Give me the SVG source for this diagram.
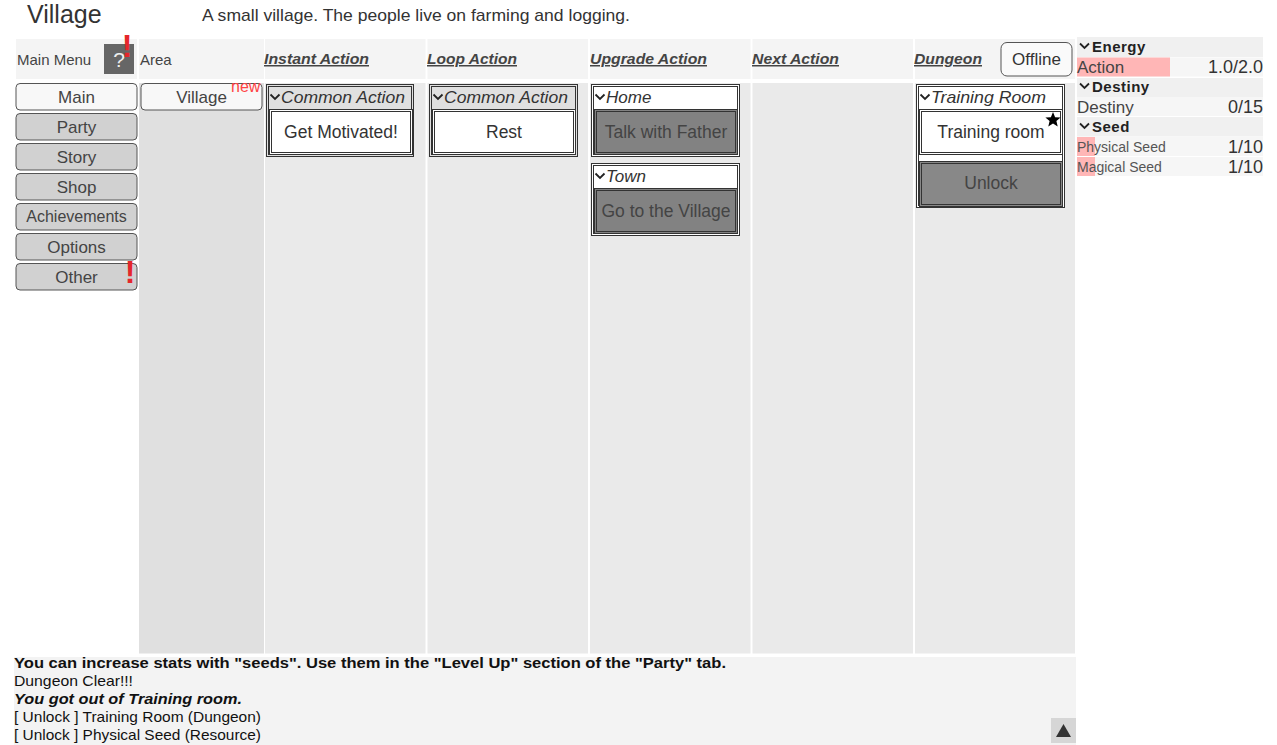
<svg xmlns="http://www.w3.org/2000/svg" width="1277" height="745" viewBox="0 0 1277 745">
<style>
text{font-family:"Liberation Sans",Arial,sans-serif;}
.hdr{fill:#f4f4f4;}
.col{fill:#eaeaea;}
.hl{font-size:15px;fill:#444;}
.ha{font-size:15px;font-weight:bold;font-style:italic;fill:#444;text-decoration:underline;}
.mb{stroke:#555;stroke-width:1;}
.mt{font-size:17px;fill:#444;text-anchor:middle;}
.box{fill:none;stroke:#333;stroke-width:1;}
.gt{font-size:17px;font-style:italic;fill:#333;}
.bt{font-size:17.5px;fill:#333;text-anchor:middle;}
.gbt{font-size:17.5px;fill:#444;text-anchor:middle;}
.chev{fill:none;stroke:#222;stroke-width:1.8;}
.rh{fill:#f0f0f0;}
.rr{fill:#f6f6f6;}
.rht{font-size:15px;font-weight:bold;fill:#222;letter-spacing:0.5px;}
.rv{font-size:18px;fill:#333;text-anchor:end;}
.log{font-size:15px;fill:#111;}
.warn{font-size:32px;font-weight:bold;fill:#e5262b;text-anchor:middle;}
</style>

<g id="title">
<text x="27" y="23" style="font-size:25px;fill:#333">Village</text>
<text x="202" y="21" style="font-size:17px;fill:#333" textLength="428" lengthAdjust="spacingAndGlyphs">A small village. The people live on farming and logging.</text>
</g>

<g id="headers">
<rect class="hdr" x="16" y="39" width="121" height="40"/>
<rect class="hdr" x="139" y="39" width="125" height="40"/>
<rect class="hdr" x="265" y="39" width="160.5" height="40"/>
<rect class="hdr" x="427.5" y="39" width="160.5" height="40"/>
<rect class="hdr" x="590" y="39" width="160.5" height="40"/>
<rect class="hdr" x="752.5" y="39" width="160.5" height="40"/>
<rect class="hdr" x="915" y="39" width="160" height="40"/>
<text class="hl" x="17" y="65">Main Menu</text>
<text class="hl" x="140" y="65">Area</text>
<text class="ha" x="264" y="64" textLength="105" lengthAdjust="spacingAndGlyphs">Instant Action</text>
<text class="ha" x="427" y="64" textLength="90" lengthAdjust="spacingAndGlyphs">Loop Action</text>
<text class="ha" x="590" y="64" textLength="117" lengthAdjust="spacingAndGlyphs">Upgrade Action</text>
<text class="ha" x="752" y="64" textLength="87" lengthAdjust="spacingAndGlyphs">Next Action</text>
<text class="ha" x="914" y="64" textLength="68" lengthAdjust="spacingAndGlyphs">Dungeon</text>
</g>

<g id="help">
<rect x="104" y="44" width="30" height="30" fill="#666"/>
<text x="119" y="67" style="font-size:21px;fill:#eee;text-anchor:middle">?</text>
<text class="warn" x="127" y="57">!</text>
</g>

<g id="offline">
<rect x="1001" y="42.5" width="71" height="33.5" rx="6" fill="#fafafa" stroke="#555"/>
<text x="1036.5" y="65" style="font-size:17px;fill:#333;text-anchor:middle">Offline</text>
</g>

<g id="columns">
<rect x="139" y="83" width="125" height="570.5" fill="#e0e0e0"/>
<rect class="col" x="265" y="83" width="160.5" height="570.5"/>
<rect class="col" x="427.5" y="83" width="160.5" height="570.5"/>
<rect class="col" x="590" y="83" width="160.5" height="570.5"/>
<rect class="col" x="752.5" y="83" width="160.5" height="570.5"/>
<rect class="col" x="915" y="83" width="160" height="570.5"/>
</g>

<g id="main-menu">
<rect class="mb" x="16" y="83.5" width="121" height="26.5" rx="4" fill="#f8f8f8"/>
<text class="mt" x="76.5" y="103">Main</text>
<rect class="mb" x="16" y="113.5" width="121" height="26.5" rx="4" fill="#d1d1d1"/>
<text class="mt" x="76.5" y="133">Party</text>
<rect class="mb" x="16" y="143.5" width="121" height="26.5" rx="4" fill="#d1d1d1"/>
<text class="mt" x="76.5" y="163">Story</text>
<rect class="mb" x="16" y="173.5" width="121" height="26.5" rx="4" fill="#d1d1d1"/>
<text class="mt" x="76.5" y="193">Shop</text>
<rect class="mb" x="16" y="203.5" width="121" height="26.5" rx="4" fill="#d1d1d1"/>
<text class="mt" x="76.5" y="222" style="font-size:16px">Achievements</text>
<rect class="mb" x="16" y="233.5" width="121" height="26.5" rx="4" fill="#d1d1d1"/>
<text class="mt" x="76.5" y="253">Options</text>
<rect class="mb" x="16" y="263.5" width="121" height="26.5" rx="4" fill="#d1d1d1"/>
<text class="mt" x="76.5" y="283">Other</text>
<text class="warn" x="130" y="283">!</text>
</g>

<g id="area-village">
<rect class="mb" x="141" y="83.5" width="121" height="26.5" rx="4" fill="#f8f8f8"/>
<text class="mt" x="201.5" y="103">Village</text>
<text x="231" y="92" style="font-size:16px;fill:#f44">new</text>
</g>

<g id="instant-common">
<rect x="266.5" y="84.5" width="147" height="72" fill="#e0e0e0"/>
<rect class="box" x="266.5" y="84.5" width="147" height="72"/>
<rect class="box" x="268.5" y="86.5" width="143" height="68"/>
<path class="chev" d="M270.5 94.5 L275 99 L279.5 94.5"/>
<text class="gt" x="281" y="103" textLength="124" lengthAdjust="spacingAndGlyphs">Common Action</text>
<rect x="269.5" y="109.5" width="143" height="45" fill="#fff" stroke="#333"/>
<rect class="box" x="271.5" y="111.5" width="139" height="41"/>
<text class="bt" x="341" y="138">Get Motivated!</text>
</g>

<g id="loop-common">
<rect x="429.5" y="84.5" width="148" height="72" fill="#e0e0e0"/>
<rect class="box" x="429.5" y="84.5" width="148" height="72"/>
<rect class="box" x="431.5" y="86.5" width="144" height="68"/>
<path class="chev" d="M433.5 94.5 L438 99 L442.5 94.5"/>
<text class="gt" x="444" y="103" textLength="124" lengthAdjust="spacingAndGlyphs">Common Action</text>
<rect x="432.5" y="109.5" width="143" height="45" fill="#fff" stroke="#333"/>
<rect class="box" x="434.5" y="111.5" width="139" height="41"/>
<text class="bt" x="504" y="138">Rest</text>
</g>

<g id="upgrade-home">
<rect x="591.5" y="84.5" width="148" height="72" fill="#fff"/>
<rect class="box" x="591.5" y="84.5" width="148" height="72"/>
<rect class="box" x="593.5" y="86.5" width="144" height="68"/>
<path class="chev" d="M595.5 94.5 L600 99 L604.5 94.5"/>
<text class="gt" x="606" y="103">Home</text>
<rect x="594.5" y="109.5" width="143" height="45" fill="#828282" stroke="#333"/>
<rect class="box" x="596.5" y="111.5" width="139" height="41"/>
<text class="gbt" x="666" y="138">Talk with Father</text>
</g>

<g id="upgrade-town">
<rect x="591.5" y="163.5" width="148" height="72" fill="#fff"/>
<rect class="box" x="591.5" y="163.5" width="148" height="72"/>
<rect class="box" x="593.5" y="165.5" width="144" height="68"/>
<path class="chev" d="M595.5 173.5 L600 178 L604.5 173.5"/>
<text class="gt" x="606" y="182">Town</text>
<rect x="594.5" y="188.5" width="143" height="45" fill="#828282" stroke="#333"/>
<rect class="box" x="596.5" y="190.5" width="139" height="41"/>
<text class="gbt" x="666" y="217">Go to the Village</text>
</g>

<g id="dungeon-training">
<rect x="916.5" y="84.5" width="148" height="123" fill="#fff"/>
<rect class="box" x="916.5" y="84.5" width="148" height="123"/>
<rect class="box" x="918.5" y="86.5" width="144" height="119"/>
<path class="chev" d="M920.5 94.5 L925 99 L929.5 94.5"/>
<text class="gt" x="931" y="103" textLength="115" lengthAdjust="spacingAndGlyphs">Training Room</text>
<rect x="919.5" y="109.5" width="143" height="45" fill="#fff" stroke="#333"/>
<rect class="box" x="921.5" y="111.5" width="139" height="41"/>
<text class="bt" x="991" y="138">Training room</text>
<path d="M1053 112 L1055.1 117.2 L1060.6 117.5 L1056.4 121 L1057.7 126.4 L1053 123.4 L1048.3 126.4 L1049.6 121 L1045.4 117.5 L1050.9 117.2 Z" fill="#000"/>
<rect x="919.5" y="161.5" width="143" height="45" fill="#888" stroke="#333"/>
<rect class="box" x="921.5" y="163.5" width="139" height="41"/>
<text class="gbt" x="991" y="189">Unlock</text>
</g>

<g id="resources">
<rect class="rh" x="1077" y="37" width="186" height="20"/>
<path class="chev" d="M1080 43.5 L1084.5 48 L1089 43.5"/>
<text class="rht" x="1092" y="52">Energy</text>
<rect class="rr" x="1077" y="57.5" width="186" height="19"/>
<rect x="1077" y="57.5" width="93" height="19" fill="#ffb6b6"/>
<text x="1077" y="73" style="font-size:17px;fill:#444">Action</text>
<text class="rv" x="1263" y="73">1.0/2.0</text>

<rect class="rh" x="1077" y="78" width="186" height="19"/>
<path class="chev" d="M1080 83.5 L1084.5 88 L1089 83.5"/>
<text class="rht" x="1092" y="92">Destiny</text>
<rect class="rr" x="1077" y="97" width="186" height="19"/>
<text x="1077" y="113" style="font-size:17px;fill:#444">Destiny</text>
<text class="rv" x="1263" y="113">0/15</text>

<rect class="rh" x="1077" y="117" width="186" height="19.5"/>
<path class="chev" d="M1080 123.5 L1084.5 128 L1089 123.5"/>
<text class="rht" x="1092" y="132">Seed</text>
<rect class="rr" x="1077" y="137" width="186" height="19"/>
<rect x="1077" y="137" width="18" height="19" fill="#ffb6b6"/>
<text x="1077" y="152" style="font-size:14px;fill:#555">Physical Seed</text>
<text class="rv" x="1263" y="153">1/10</text>
<rect class="rr" x="1077" y="157" width="186" height="19"/>
<rect x="1077" y="157" width="18" height="19" fill="#ffb6b6"/>
<text x="1077" y="172" style="font-size:14px;fill:#555">Magical Seed</text>
<text class="rv" x="1263" y="173">1/10</text>
</g>

<g id="log">
<rect x="14" y="657" width="1062" height="88" fill="#f3f3f3"/>
<text class="log" x="14" y="668" style="font-weight:bold" textLength="712" lengthAdjust="spacingAndGlyphs">You can increase stats with "seeds". Use them in the "Level Up" section of the "Party" tab.</text>
<text class="log" x="14" y="686" textLength="119" lengthAdjust="spacingAndGlyphs">Dungeon Clear!!!</text>
<text class="log" x="14" y="704" style="font-weight:bold;font-style:italic" textLength="228" lengthAdjust="spacingAndGlyphs">You got out of Training room.</text>
<text class="log" x="14" y="722" textLength="247" lengthAdjust="spacingAndGlyphs">[ Unlock ] Training Room (Dungeon)</text>
<text class="log" x="14" y="740" textLength="247" lengthAdjust="spacingAndGlyphs">[ Unlock ] Physical Seed (Resource)</text>
<rect x="1051" y="718" width="25" height="25" fill="#d6d6d6"/>
<path d="M1063.5 724 L1071 737 L1056 737 Z" fill="#333"/>
</g>
</svg>
